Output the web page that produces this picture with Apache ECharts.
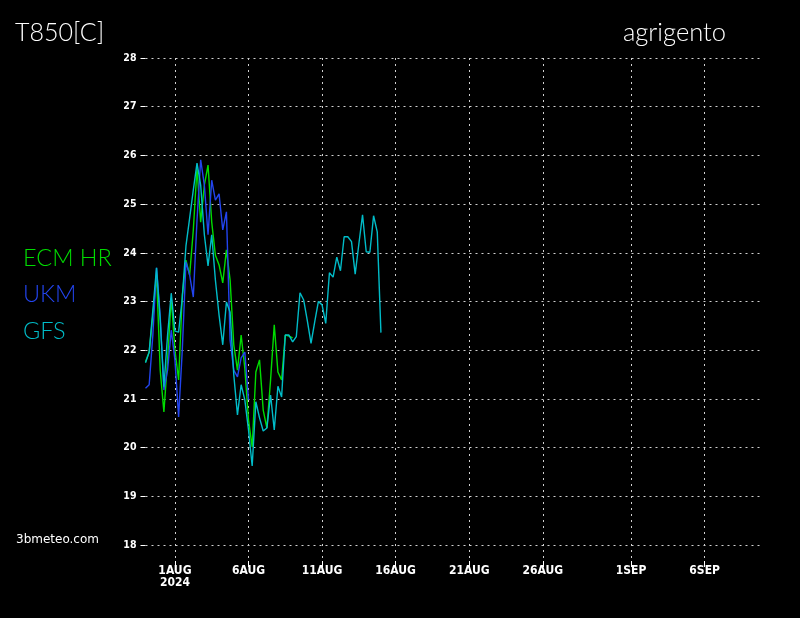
<!DOCTYPE html>
<html><head><meta charset="utf-8">
<script src="https://cdn.jsdelivr.net/npm/echarts@6/dist/echarts.min.js"></script>
<style>html,body{margin:0;padding:0;background:#000}#c{width:800px;height:618px}</style>
</head><body><div id="c"></div>
<script>
// 6-hourly values starting 30 Jul 2024 00Z
const startTime = Date.UTC(2024, 6, 30, 0);
const stepHours = 6;
const seriesNames = ['ECM HR', 'UKM', 'GFS'];
const ecmHr = [21.76, 21.96, 22.72, 23.54, 21.59, 20.73, 21.80, 23.07, 22.00, 21.39,
  23.13, 23.85, 23.54, 24.47, 25.74, 24.63, 25.39, 25.80, 24.63, 23.95,
  23.75, 23.38, 24.06, 23.44, 22.11, 21.59, 22.31, 21.63, 20.57, 20.01,
  21.55, 21.80, 20.77, 20.40, 21.39, 22.52, 21.55, 21.39, 22.31, 22.29, 22.25];
const ukm = [21.22, 21.29, 22.31, 23.69, 22.69, 21.18, 21.59, 22.41, 21.80, 20.63,
  22.00, 23.81, 23.54, 23.09, 24.67, 25.91, 25.39, 24.37, 25.49, 25.08,
  25.21, 24.47, 24.84, 22.20, 21.59, 21.45, 21.84, 21.96, 20.98];
const gfs = [21.74, 21.96, 22.82, 23.69, 22.62, 21.25, 22.31, 23.17, 22.39, 22.37,
  23.07, 24.14, 24.71, 25.29, 25.84, 25.39, 24.37, 23.73, 24.37, 23.44,
  22.72, 22.11, 22.99, 22.78, 21.49, 20.67, 21.29, 20.98, 20.36, 19.62,
  20.94, 20.61, 20.34, 20.40, 21.08, 20.36, 21.26, 21.04, 22.31, 22.31,
  22.17, 22.28, 23.18, 23.03, 22.60, 22.14, 22.58, 23.00, 22.93, 22.55,
  23.59, 23.50, 23.91, 23.63, 24.33, 24.33, 24.23, 23.56, 24.18, 24.78,
  24.02, 24.01, 24.76, 24.43, 22.36];
const yTicks = [18, 19, 20, 21, 22, 23, 24, 25, 26, 27, 28];
const xTickDates = [[2024,7,1],[2024,7,6],[2024,7,11],[2024,7,16],[2024,7,21],[2024,7,26],[2024,8,1],[2024,8,6]];
const xTickLabels = ['1AUG\n2024', '6AUG', '11AUG', '16AUG', '21AUG', '26AUG', '1SEP', '6SEP'];
const colors = ['#00dc00', '#2244ee', '#00bcc8'];

const xTickValues = xTickDates.map(d => Date.UTC(d[0], d[1], d[2]));
function toPairs(arr) {
  return arr.map((v, i) => [startTime + i * stepHours * 3600 * 1000, v]);
}
const dot = { color: '#d0d0d0', width: 1, type: [2, 4] };
const thin = "Lato, 'DejaVu Sans', sans-serif";
const tick = "'DejaVu Sans Condensed', 'Liberation Sans', sans-serif";
const chart = echarts.init(document.getElementById('c'), null, { renderer: 'canvas' });
chart.setOption({
  backgroundColor: '#000',
  animation: false,
  title: [
    { text: 'T850[C]', left: 10, top: 15, textStyle: { color: '#fff', fontFamily: thin, fontWeight: 300, fontSize: 25 } },
    { text: 'agrigento', left: 618, top: 15, textStyle: { color: '#fff', fontFamily: thin, fontWeight: 300, fontSize: 25.5 } },
    { text: '3bmeteo.com', left: 11, top: 529, textStyle: { color: '#fff', fontFamily: "'DejaVu Sans'", fontWeight: 'normal', fontSize: 12 } }
  ],
  legend: {
    orient: 'vertical', left: 13, top: 241, icon: 'none', itemWidth: 0, itemHeight: 24, itemGap: 12.5,
    selectedMode: false,
    textStyle: { fontFamily: thin, fontWeight: 300, fontSize: 23.5, lineHeight: 24 },
    data: seriesNames.map((n, i) => ({ name: n, textStyle: { color: colors[i] } }))
  },
  grid: { left: 145.5, right: 36.5, top: 58, bottom: 57 },
  xAxis: {
    type: 'value',
    min: startTime,
    max: Date.UTC(2024, 8, 10),
    axisLine: { show: false },
    axisTick: { show: true, length: 6, customValues: xTickValues, lineStyle: { color: '#fff', width: 1 } },
    axisLabel: {
      customValues: xTickValues, margin: 4, color: '#fff', fontFamily: tick, fontWeight: 'bold', fontSize: 12, lineHeight: 12,
      formatter: v => { const i = xTickValues.indexOf(v); return i >= 0 ? xTickLabels[i] : ''; }
    },
    splitLine: { show: true, lineStyle: dot }
  },
  yAxis: {
    type: 'value',
    min: 17.67,
    max: 28,
    axisLine: { show: false },
    axisTick: { show: true, length: 5, customValues: yTicks, lineStyle: { color: '#fff', width: 1 } },
    axisLabel: { customValues: yTicks, margin: 9, color: '#fff', fontFamily: tick, fontWeight: 'bold', fontSize: 10.5 },
    splitLine: { show: true, lineStyle: dot }
  },
  series: [
    { name: seriesNames[0], type: 'line', data: toPairs(ecmHr), symbol: 'none', color: colors[0], lineStyle: { width: 1.4 } },
    { name: seriesNames[1], type: 'line', data: toPairs(ukm), symbol: 'none', color: colors[1], lineStyle: { width: 1.4 } },
    { name: seriesNames[2], type: 'line', data: toPairs(gfs), symbol: 'none', color: colors[2], lineStyle: { width: 1.4 } }
  ]
});
</script></body></html>
